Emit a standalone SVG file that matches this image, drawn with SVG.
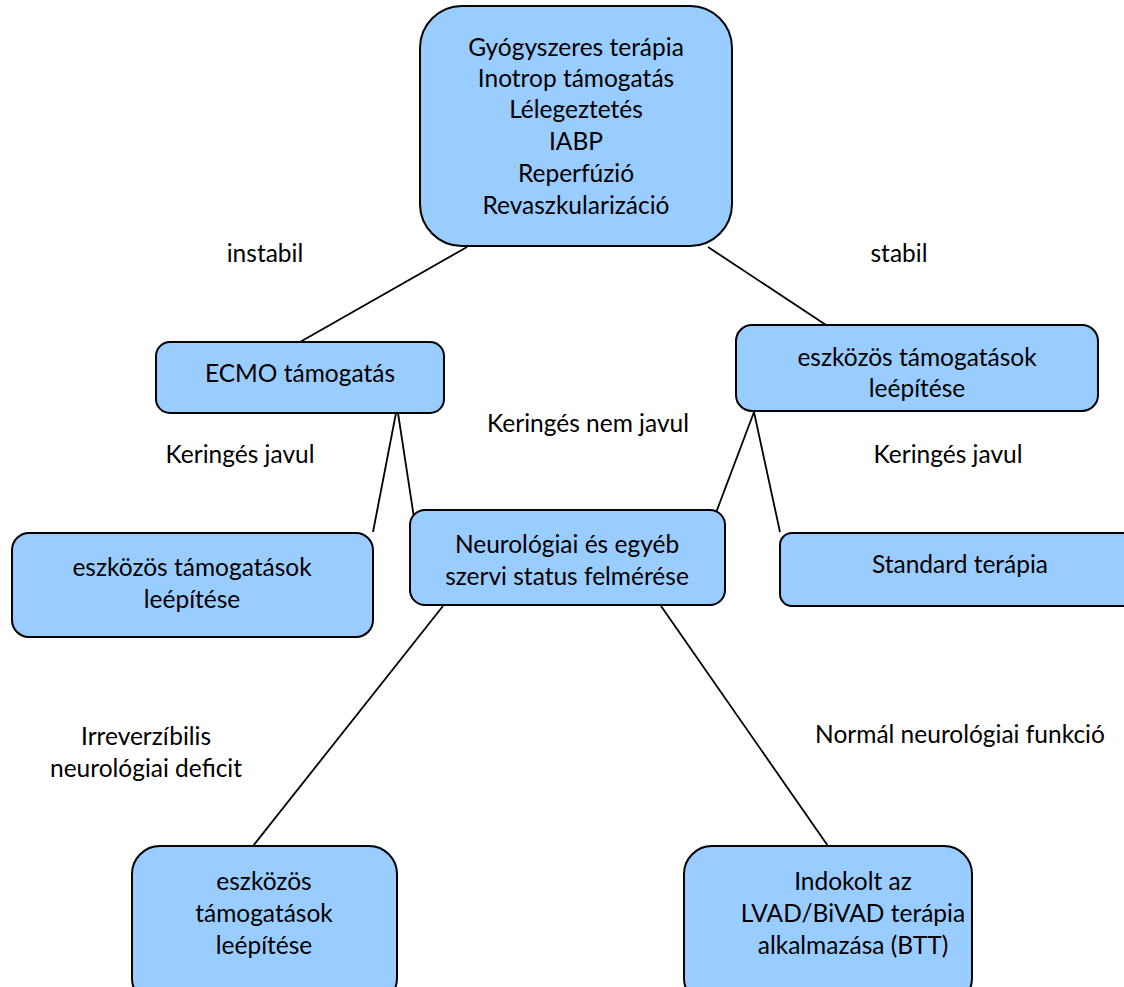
<svg xmlns="http://www.w3.org/2000/svg" width="1124" height="987" viewBox="0 0 1124 987">
<style>
.n{fill:#99CCFF;stroke:#000;stroke-width:2}
text{font-family:Lato,"Liberation Sans",sans-serif;font-size:24.5px;fill:#000;text-anchor:middle;dominant-baseline:central}
.c line{stroke:#000;stroke-width:1.8}
</style>
<rect width="1124" height="987" fill="#fff"/>
<g class="c" id="connectors">
<line x1="467" y1="247" x2="300" y2="342"/>
<line x1="708" y1="247" x2="826" y2="325"/>
<line x1="396" y1="413" x2="373" y2="532"/>
<line x1="398" y1="413" x2="420" y2="557"/>
<line x1="754" y1="412" x2="708" y2="534"/>
<line x1="754" y1="412" x2="780" y2="532"/>
<line x1="443" y1="606" x2="253" y2="846"/>
<line x1="661" y1="606" x2="828" y2="846"/>
</g>
<g id="top"><rect class="n" x="420" y="6" width="312" height="240" rx="42"/>
<text x="576" y="46">Gyógyszeres terápia</text>
<text x="576" y="77">Inotrop támogatás</text>
<text x="576" y="108">Lélegeztetés</text>
<text x="576" y="140">IABP</text>
<text x="576" y="172">Reperfúzió</text>
<text x="576" y="204">Revaszkularizáció</text></g>
<g id="ecmo"><rect class="n" x="156" y="342" width="288" height="71" rx="14"/>
<text x="300" y="372">ECMO támogatás</text></g>
<g id="right"><rect class="n" x="736" y="325" width="362" height="86" rx="16"/>
<text x="917" y="356">eszközös támogatások</text>
<text x="917" y="387">leépítése</text></g>
<g id="standard"><rect class="n" x="780" y="533" width="360" height="73" rx="12"/>
<text x="960" y="563">Standard terápia</text></g>
<g id="left"><rect class="n" x="12" y="533" width="361" height="104" rx="17"/>
<text x="192" y="566">eszközös támogatások</text>
<text x="192" y="598">leépítése</text></g>
<g id="middle"><rect class="n" x="410" y="510" width="315" height="95" rx="15"/>
<text x="567" y="543">Neurológiai és egyéb</text>
<text x="567" y="575">szervi status felmérése</text></g>
<g id="bl"><rect class="n" x="132" y="846" width="265" height="160" rx="28"/>
<text x="264" y="880">eszközös</text>
<text x="264" y="912">támogatások</text>
<text x="264" y="944">leépítése</text></g>
<g id="br"><rect class="n" x="684" y="846" width="288" height="160" rx="28"/>
<text x="853" y="880">Indokolt az</text>
<text x="853" y="912">LVAD/BiVAD terápia</text>
<text x="853" y="944">alkalmazása (BTT)</text></g>
<g id="labels">
<text x="265" y="252">instabil</text>
<text x="899" y="252">stabil</text>
<text x="588" y="422">Keringés nem javul</text>
<text x="240" y="453">Keringés javul</text>
<text x="948" y="453">Keringés javul</text>
<text x="146" y="735">Irreverzíbilis</text>
<text x="146" y="767">neurológiai deficit</text>
<text x="960" y="733">Normál neurológiai funkció</text>
</g>
</svg>
